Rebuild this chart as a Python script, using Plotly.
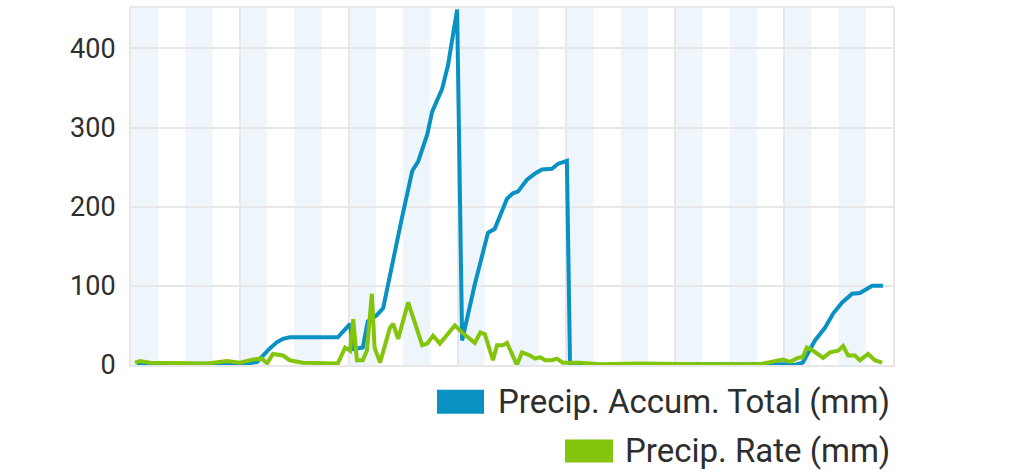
import plotly.graph_objects as go

# ---- data (x in hours from start of the 7-day window) ----
accum_hours = [1.3, 4.2, 15.2, 23, 26, 27.8, 29, 30.6, 32.2, 33.5, 35, 37.3, 45.6, 47.2, 48.3,
               48.9, 51.1, 52.2, 54.2, 55.6, 57.8, 59.7, 62, 63.3, 65.3, 66.4, 68.6, 69.9, 71.9,
               73, 75.8, 78.7, 80.2, 82.9, 84.2, 85.3, 87.3, 89.1, 90.6, 92.8, 94.1, 96.1,
               96.8, 112.2, 125.4, 144.2, 146.4, 148.1, 150.8, 153, 154.8, 156.8, 159, 160.7,
               162.3, 163.4, 165.8]
accum_mm = [1, 1, 1, 2, 2, 4, 12, 21, 29, 33, 35, 35, 35, 45, 52,
            20, 22, 55, 63, 72, 135, 185, 245, 257, 291, 320, 349, 379, 449,
            31, 102, 167, 172, 210, 217, 219, 234, 242, 247, 248, 254, 258,
            0, 1, 1, 1, 0, 3, 31, 47, 65, 79, 90, 91,
            96, 100, 100]

rate_hours = [0.9, 2, 4.2, 16.8, 21.2, 24, 26.9, 28.9, 30, 31.3, 33.5, 35, 37.9, 45.6, 47.2,
              48.3, 49, 49.8, 51.1, 52, 53.1, 53.7, 54.9, 57.1, 57.8, 58.9, 61.1, 64.2, 65.3,
              66.6, 68.1, 70.8, 71.4, 73, 75.8, 77, 78, 79.8, 80.7, 82, 82.9, 85.1, 86.2, 88,
              89.1, 90.2, 91.3, 92.8, 93.9, 95.2, 99, 103.4, 112.2, 125.4, 138.7, 143.7, 145.3,
              147, 148.1, 149, 150.4, 152.6, 154.1, 155.9, 157, 158.1, 159.6, 160.7, 162.5,
              164, 165.6]
rate_mm = [3, 5, 3, 2, 5, 3, 7, 8, 2, 14, 12, 6, 3, 2, 22,
           18, 58, 6, 6, 18, 90, 22, 3, 47, 52, 33, 79, 25, 27,
           37, 27, 47, 50, 41, 28, 41, 39, 6, 25, 25, 28, 0, 16, 12,
           8, 10, 6, 6, 8, 3, 3, 1, 2, 1, 1, 7, 4,
           9, 10, 22, 18, 9, 16, 18, 24, 12, 12, 6, 14,
           6, 3]

series_names = ["Precip. Accum. Total (mm)", "Precip. Rate (mm)"]
series_colors = ["#0a91c4", "#83c40c"]
y_ticks = [0, 100, 200, 300, 400]
n_days = 7

FONT = "Roboto, Arial, sans-serif"
TEXT = "#2e2e2e"
GRID = "#e7e7e9"
BAND = "#eef5fb"

fig = go.Figure()
fig.add_trace(go.Scatter(x=accum_hours, y=accum_mm, mode="lines", name=series_names[0],
                         line=dict(color=series_colors[0], width=4), showlegend=False))
fig.add_trace(go.Scatter(x=rate_hours, y=rate_mm, mode="lines", name=series_names[1],
                         line=dict(color=series_colors[1], width=4), showlegend=False))

shapes = []
for d in range(n_days):
    for start in (0, 12):
        shapes.append(dict(type="rect", xref="x", yref="paper",
                           x0=24 * d + start, x1=24 * d + start + 6, y0=0, y1=1,
                           fillcolor=BAND, line=dict(width=0), layer="below"))

# manual legend (right aligned rows, wide swatches)
L, R, T, B = 131, 893, 6, 365
W, H = R - L, B - T
def px(x):
    return (x - L) / W
def py(y):
    return (B - y) / H

legend_rows = [(437, 484, 390, 414, 402), (565, 613, 440, 463, 451)]
annotations = []
for (x0, x1, y0, y1, yc), name, col in zip(legend_rows, series_names, series_colors):
    shapes.append(dict(type="rect", xref="paper", yref="paper",
                       x0=px(x0), x1=px(x1), y0=py(y1), y1=py(y0),
                       fillcolor=col, line=dict(width=0), layer="above"))
    annotations.append(dict(xref="paper", yref="paper", x=px(892), y=py(yc),
                            xanchor="right", yanchor="middle", showarrow=False,
                            text=name, font=dict(family=FONT, size=33, color=TEXT)))

fig.update_layout(
    width=1024, height=475,
    margin=dict(l=L, r=1024 - R, t=T, b=475 - B),
    paper_bgcolor="white", plot_bgcolor="white",
    shapes=shapes, annotations=annotations,
    showlegend=False,
    xaxis=dict(range=[0, 24 * n_days], tick0=0, dtick=24, showticklabels=False,
               showgrid=True, gridcolor=GRID, gridwidth=2, zeroline=False,
               showline=True, linecolor=GRID, linewidth=2, mirror=True, ticks=""),
    yaxis=dict(range=[0, 451], tickvals=y_ticks, showgrid=True, gridcolor=GRID, gridwidth=2,
               zeroline=False, showline=True, linecolor=GRID, linewidth=2, mirror=True,
               ticks="", ticklabelstandoff=8,
               tickfont=dict(family=FONT, size=27, color=TEXT)),
)

fig.write_html("out.html", config={"displayModeBar": False},
               post_script="document.body.style.margin='0px';document.body.style.padding='0px';")
